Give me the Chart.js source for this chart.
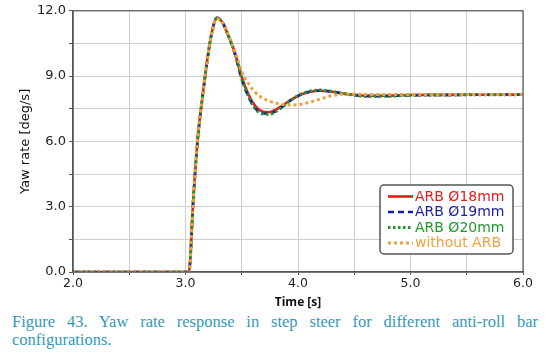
<!DOCTYPE html>
<html><head><meta charset="utf-8">
<script src="https://cdn.jsdelivr.net/npm/chart.js@4.4.1/dist/chart.umd.min.js"></script>
<style>
html,body{margin:0;padding:0;background:#fff;}
#wrap{position:relative;width:556px;height:310px;}
#cap{position:absolute;left:12px;top:313px;width:526px;font-family:"Liberation Serif",serif;font-size:16.5px;line-height:18px;color:#3399bb;text-align:justify;}
</style></head><body>
<div id="wrap"><canvas id="c" width="556" height="310"></canvas></div>
<div id="cap">Figure 43. Yaw rate response in step steer for different anti-roll bar configurations.</div>
<script>
const time = [2.0,3.0,3.03,3.07,3.11,3.15,3.19,3.23,3.28,3.33,3.38,3.44,3.50,3.56,3.62,3.68,3.74,3.80,3.87,3.94,4.02,4.10,4.20,4.30,4.40,4.50,4.60,4.75,5.0,5.5,6.0];
const arb18 = [0,0,0,3.4,6.2,8.0,9.6,10.9,11.68,11.45,10.86,10.05,8.95,8.15,7.62,7.38,7.34,7.45,7.68,7.92,8.14,8.27,8.33,8.28,8.20,8.14,8.10,8.10,8.13,8.14,8.15];
const arb19 = [0,0,0,3.4,6.2,8.0,9.6,10.9,11.68,11.45,10.86,10.00,8.85,8.05,7.52,7.30,7.27,7.38,7.62,7.90,8.14,8.28,8.34,8.29,8.20,8.13,8.08,8.08,8.12,8.14,8.15];
const arb20 = [0,0,0,3.4,6.2,8.0,9.6,10.9,11.68,11.45,10.88,10.05,8.90,8.05,7.50,7.27,7.24,7.36,7.62,7.90,8.16,8.30,8.36,8.30,8.20,8.12,8.07,8.07,8.12,8.14,8.15];
const noArb = [0,0,0,3.4,6.2,8.0,9.6,10.9,11.65,11.45,10.90,10.12,9.20,8.65,8.26,8.00,7.86,7.76,7.69,7.67,7.70,7.80,7.95,8.10,8.17,8.17,8.16,8.15,8.15,8.15,8.15];
const labels = ["ARB \u00D818mm","ARB \u00D819mm","ARB \u00D820mm","without ARB"];
const yTicks = [0,3,6,9,12];
const xTicks = [2,3,4,5,6];

const pts = arr => arr.map((v,i)=>({x:time[i],y:v}));
const styles = [
 {color:'#e41b1b', dash:[], width:2.6, order:4},
 {color:'#1c1ca6', dash:[6,4], width:2.6, order:3},
 {color:'#22992c', dash:[2.5,2.5], width:3, order:2},
 {color:'#f2a03a', dash:[3,3], width:3, order:1}
];
const series = [arb18, arb19, arb20, noArb];

const legendPlugin = {
 id:'boxLegend',
 afterDraw(chart){
  const ctx = chart.ctx, a = chart.chartArea;
  const w = 133, h = 69;
  const x0 = a.right - 10 - w, y0 = a.bottom - 18 - h;
  ctx.save();
  ctx.beginPath();
  ctx.roundRect(x0, y0, w, h, 4);
  ctx.fillStyle = '#fff'; ctx.fill();
  ctx.lineWidth = 1.5; ctx.strokeStyle = '#555'; ctx.stroke();
  ctx.font = '14px "DejaVu Sans"';
  ctx.textBaseline = 'middle';
  chart.data.datasets.forEach((ds,i)=>{
    const y = y0 + 11.5 + i*15.5;
    ctx.beginPath();
    ctx.setLineDash(ds.borderDash);
    ctx.lineWidth = ds.borderWidth;
    ctx.strokeStyle = ds.borderColor;
    ctx.moveTo(x0+8, y); ctx.lineTo(x0+33, y); ctx.stroke();
    ctx.setLineDash([]);
    ctx.fillStyle = ds.borderColor;
    ctx.fillText(ds.label, x0+35, y+0.5);
  });
  ctx.restore();
 }
};
const framePlugin = {
 id:'frame',
 afterDatasetsDraw(chart){
  const ctx = chart.ctx, a = chart.chartArea;
  ctx.save();
  ctx.strokeStyle = '#555'; ctx.lineWidth = 1.2;
  ctx.strokeRect(a.left, a.top, a.right-a.left, a.bottom-a.top);
  ctx.restore();
 }
};

new Chart(document.getElementById('c'), {
 type:'line',
 data:{datasets: series.map((s,i)=>({
   label:labels[i], data:pts(s), borderColor:styles[i].color, backgroundColor:styles[i].color,
   borderDash:styles[i].dash, borderWidth:styles[i].width, order:styles[i].order,
   pointRadius:0, cubicInterpolationMode:'monotone', fill:false
 }))},
 options:{
  responsive:false, animation:false, devicePixelRatio:1,
  layout:{padding:{top:8,right:33,left:18,bottom:0}},
  plugins:{legend:{display:false}, tooltip:{enabled:false}},
  scales:{
   x:{type:'linear', min:2, max:6,
      afterFit(s){s.height=38;},
      ticks:{stepSize:0.5, autoSkip:false, maxRotation:0, color:'#222', font:{family:'DejaVu Sans', size:12.5}, padding:1,
        callback:v=> xTicks.includes(v) ? v.toFixed(1) : ''},
      grid:{color:'#cfcfcf', tickLength:3, tickColor:'#555'},
      border:{color:'#555', width:1.2},
      title:{display:true, text:'Time [s]', color:'#111', font:{family:'Open Sans', size:12, weight:'bold'}, padding:{top:0,bottom:0}}
   },
   y:{min:0, max:12,
      afterFit(s){s.width=55;},
      ticks:{stepSize:1.5, autoSkip:false, color:'#222', font:{family:'DejaVu Sans', size:13}, padding:3,
        callback:v=> yTicks.includes(v) ? v.toFixed(1) : ''},
      grid:{color:'#cfcfcf', tickLength:4, tickColor:'#555'},
      border:{color:'#555', width:1.2},
      title:{display:true, text:'Yaw rate [deg/s]', color:'#111', font:{family:'DejaVu Sans', size:13}, padding:{top:0,bottom:0}}
   }
  }
 },
 plugins:[framePlugin, legendPlugin]
});
</script>
</body></html>
